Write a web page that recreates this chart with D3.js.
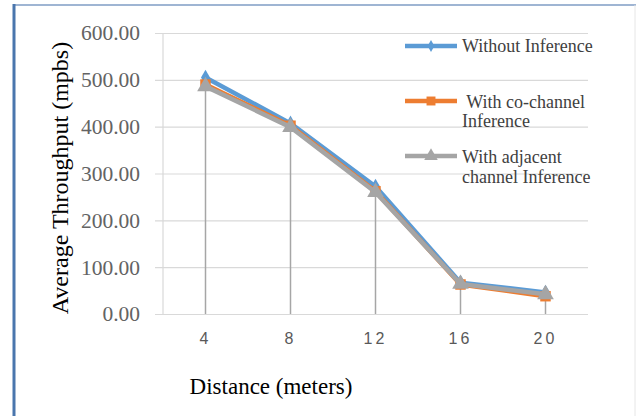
<!DOCTYPE html>
<html lang="en">
<head>
<meta charset="utf-8">
<title>Average Throughput vs Distance</title>
<script src="https://d3js.org/d3.v7.min.js"></script>
<style>
body { margin: 0; background: #fff; }
</style>
</head>
<body>
<div id="container"></div>
<script>
const distances = ["4", "8", "12", "16", "20"];
const withoutInference = [505, 407, 272, 67, 46];
const coChannel = [490, 402, 262, 63, 38];
const adjacentChannel = [486, 399, 260, 64, 42];
const yTicks = [0, 100, 200, 300, 400, 500, 600];

const width = 636;
const height = 416;

const svg = d3.select("#container").append("svg")
    .attr("width", width)
    .attr("height", height);

// frame
svg.append("rect").attr("x", 0).attr("y", 0).attr("width", width).attr("height", height).attr("fill", "#fff");
svg.append("line").attr("x1", 13).attr("x2", 636).attr("y1", 5).attr("y2", 5)
    .attr("stroke", "#7f9cc4").attr("stroke-width", 1.5);
svg.append("line").attr("x1", 14).attr("x2", 14).attr("y1", 4).attr("y2", 416)
    .attr("stroke", "#4a76ad").attr("stroke-width", 3);
svg.append("line").attr("x1", 635).attr("x2", 635).attr("y1", 5).attr("y2", 416)
    .attr("stroke", "#e6e6e6").attr("stroke-width", 1);

const xScale = d3.scaleBand().domain(distances).range([163, 588]);
const yScale = d3.scaleLinear().domain([0, 600]).range([314, 33]);
const cx = d => xScale(d) + xScale.bandwidth() / 2;

// gridlines + y labels
const yaxis = d3.axisLeft(yScale)
    .tickValues(yTicks)
    .tickSize(-(588 - 155))
    .tickPadding(15)
    .tickFormat(d3.format(".2f"));

const gy = svg.append("g")
    .attr("transform", "translate(155,0)")
    .call(yaxis);
gy.select(".domain").remove();
gy.selectAll(".tick line").attr("stroke", "#d9d9d9").attr("stroke-width", 1.2);
gy.selectAll(".tick text")
    .attr("fill", "#636363")
    .style("font-family", "'Liberation Serif', serif")
    .style("font-size", "21.5px");

svg.append("line")
    .attr("x1", 163).attr("x2", 163)
    .attr("y1", yScale(600)).attr("y2", yScale(0))
    .attr("stroke", "#d9d9d9").attr("stroke-width", 1.2);

// x labels
const xaxis = d3.axisBottom(xScale).tickSize(0).tickPadding(19);
const gx = svg.append("g")
    .attr("transform", "translate(0," + yScale(0) + ")")
    .call(xaxis);
gx.select(".domain").remove();
gx.selectAll(".tick text")
    .attr("fill", "#595959")
    .style("font-family", "'Liberation Sans', sans-serif")
    .style("font-size", "16px")
    .style("letter-spacing", "3px");

// drop lines
const maxVals = distances.map((d, i) => Math.max(withoutInference[i], coChannel[i], adjacentChannel[i]));
svg.append("g").selectAll("line")
    .data(distances)
    .enter().append("line")
    .attr("x1", d => cx(d)).attr("x2", d => cx(d))
    .attr("y1", (d, i) => yScale(maxVals[i]))
    .attr("y2", yScale(0))
    .attr("stroke", "#a6a6a6").attr("stroke-width", 1.5);

const series = [
    { name: "Without Inference", values: withoutInference, color: "#5b9bd5", marker: "diamond" },
    { name: "With co-channel Inference", values: coChannel, color: "#ed7d31", marker: "square" },
    { name: "With adjacent channel Inference", values: adjacentChannel, color: "#a5a5a5", marker: "triangle" }
];

const symbolFor = {
    diamond: d3.symbol().type(d3.symbolDiamond).size(70),
    square: d3.symbol().type(d3.symbolSquare).size(110),
    triangle: d3.symbol().type(d3.symbolTriangle).size(120)
};

const line = d3.line()
    .x((d, i) => cx(distances[i]))
    .y(d => yScale(d));

series.forEach(function(s) {
    const g = svg.append("g");
    g.append("path")
        .attr("d", line(s.values))
        .attr("fill", "none")
        .attr("stroke", s.color)
        .attr("stroke-width", 4.5)
        .attr("stroke-linejoin", "round");
    g.selectAll("path.pt")
        .data(s.values)
        .enter().append("path")
        .attr("class", "pt")
        .attr("d", symbolFor[s.marker])
        .attr("transform", (d, i) => "translate(" + cx(distances[i]) + "," + yScale(d) + ")")
        .attr("fill", s.color);
});

// legend
const legendRows = [
    { y: 46, lines: ["Without Inference"], base: [52] },
    { y: 101, lines: [" With co-channel", "Inference"], base: [108, 127] },
    { y: 156, lines: ["With adjacent", "channel Inference"], base: [163, 183] }
];
legendRows.forEach(function(r, i) {
    const s = series[i];
    svg.append("line")
        .attr("x1", 405).attr("x2", 457)
        .attr("y1", r.y).attr("y2", r.y)
        .attr("stroke", s.color).attr("stroke-width", 4.5);
    svg.append("path")
        .attr("d", symbolFor[s.marker].size(s.marker === "diamond" ? 40 : 80)())
        .attr("transform", "translate(431," + r.y + ")")
        .attr("fill", s.color);
    r.lines.forEach(function(t, j) {
        svg.append("text")
            .attr("x", 462).attr("y", r.base[j])
            .attr("fill", "#404040")
            .style("font-family", "'Liberation Serif', serif")
            .style("font-size", "18px")
            .style("white-space", "pre")
            .text(t);
    });
});

// axis titles
svg.append("text")
    .attr("transform", "translate(68,178) rotate(-90)")
    .attr("text-anchor", "middle")
    .attr("fill", "#000")
    .style("font-family", "'Liberation Serif', serif")
    .style("font-size", "24px")
    .text("Average Throughput (mpbs)");

svg.append("text")
    .attr("x", 271).attr("y", 394)
    .attr("text-anchor", "middle")
    .attr("fill", "#000")
    .style("font-family", "'Liberation Serif', serif")
    .style("font-size", "23px")
    .text("Distance (meters)");
</script>
</body>
</html>
